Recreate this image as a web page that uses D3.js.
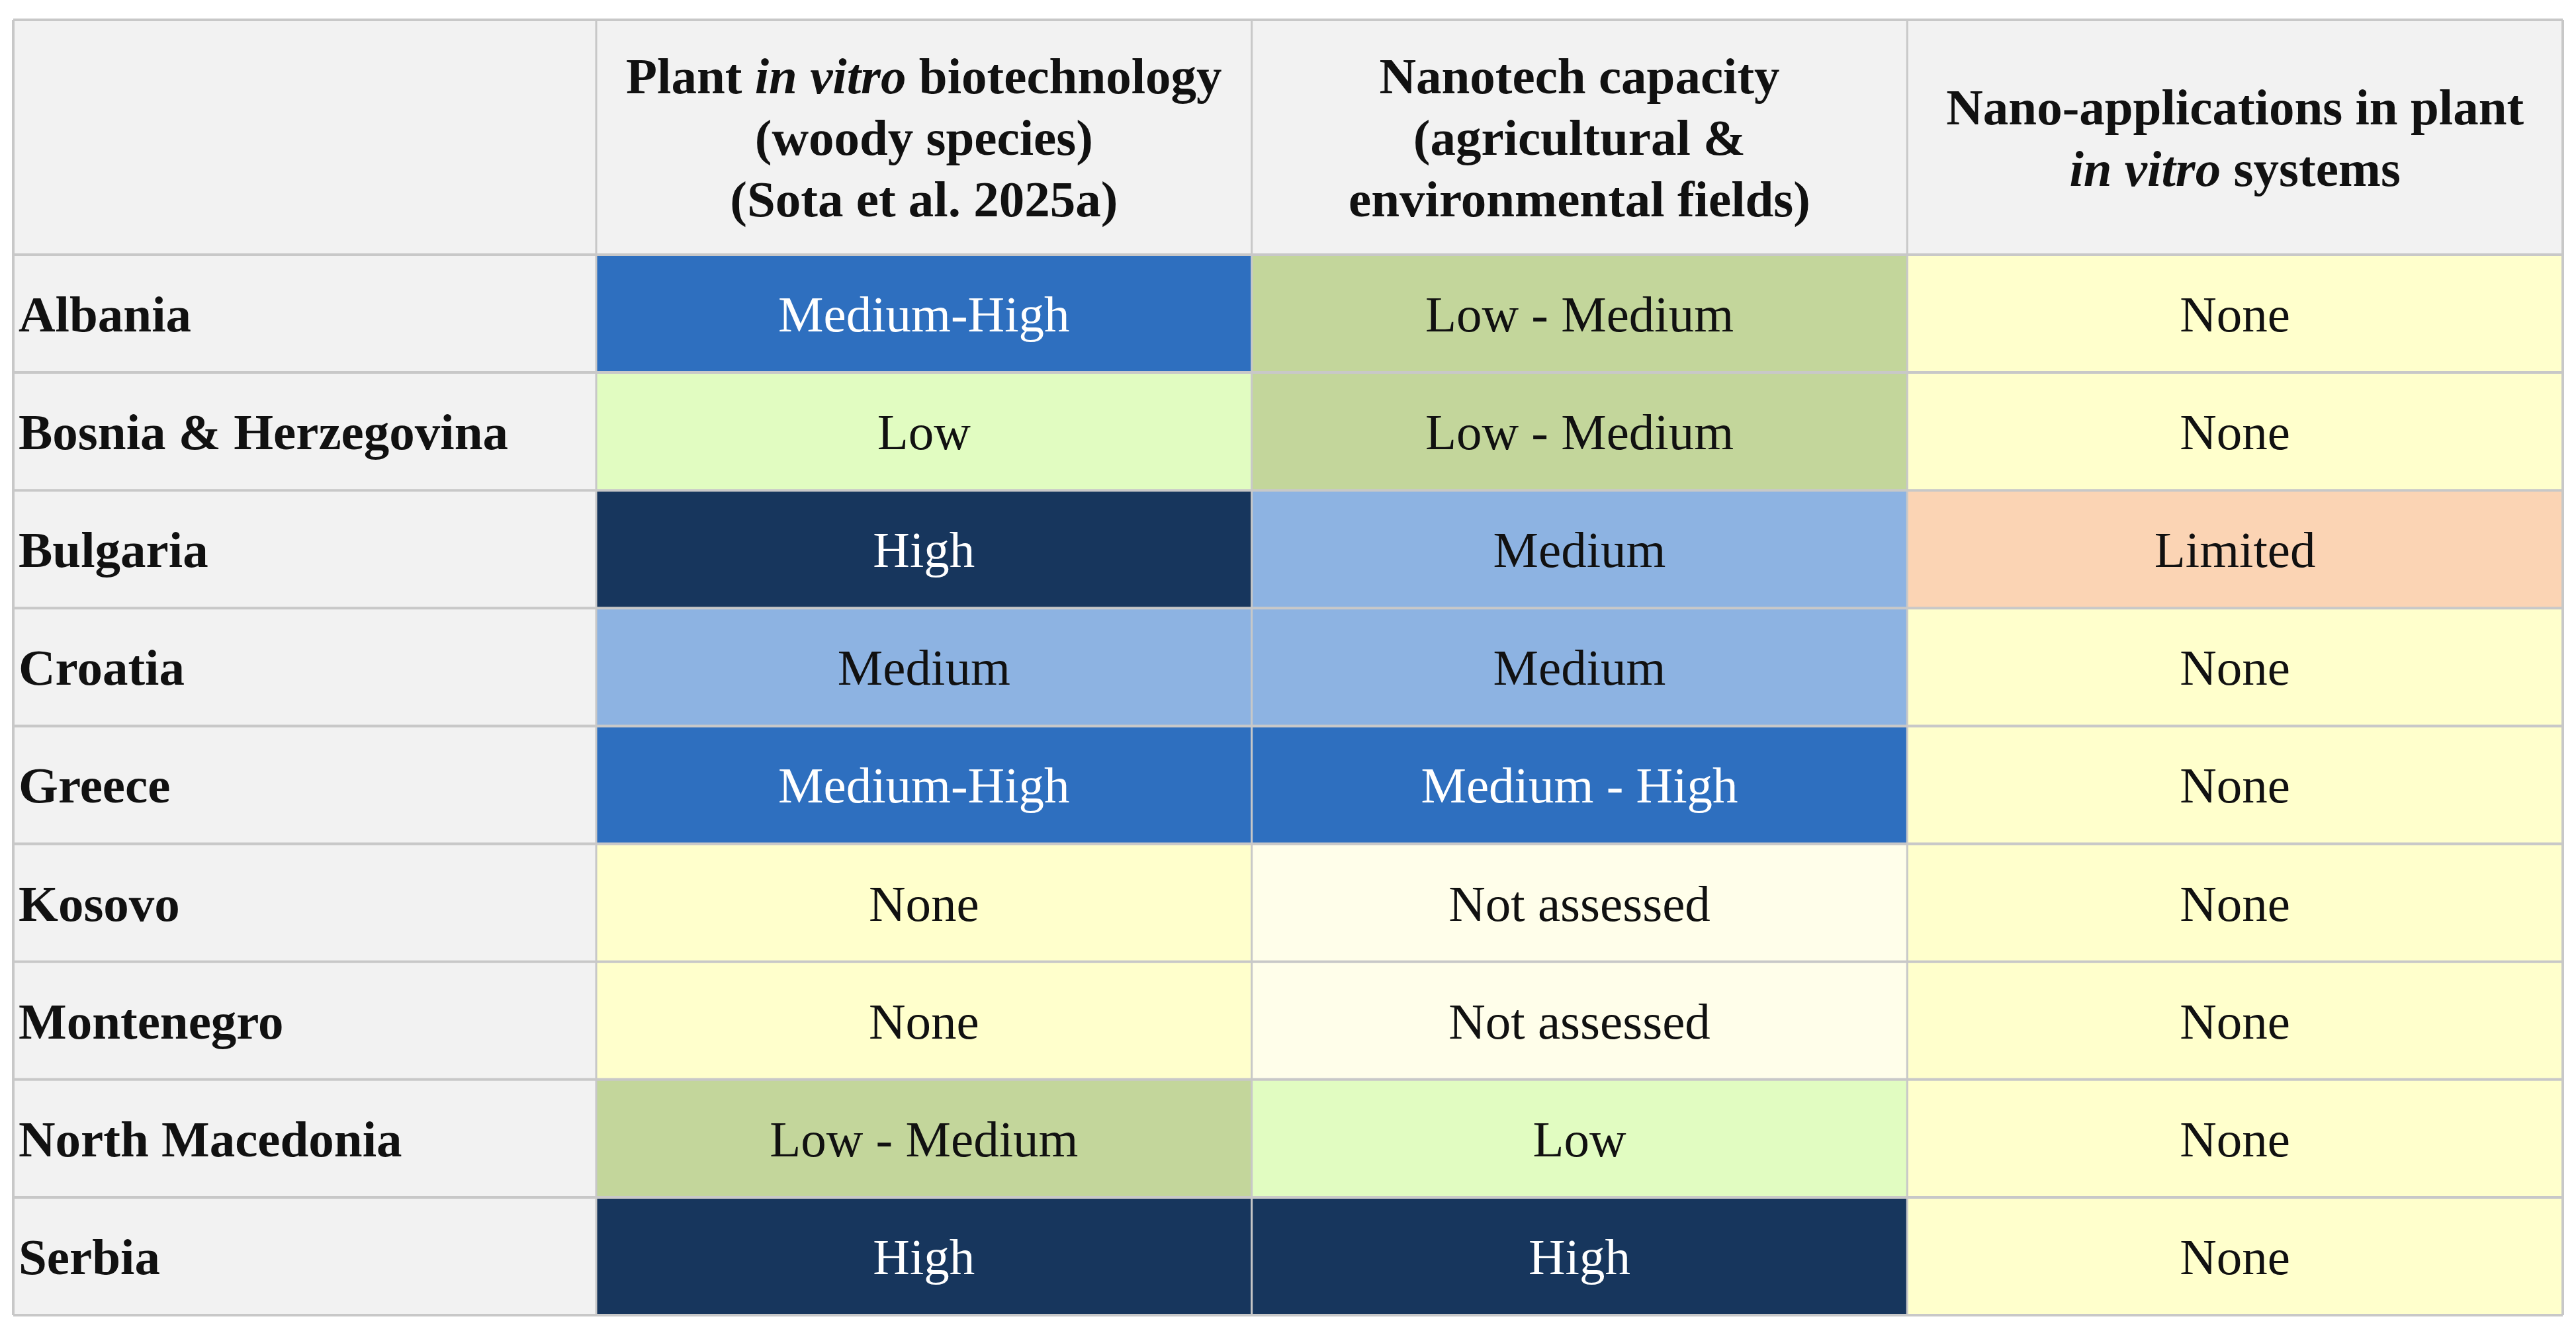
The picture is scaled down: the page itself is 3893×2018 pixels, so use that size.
<!DOCTYPE html>
<html>
<head>
	<meta charset="utf-8">
	<script src="https://d3js.org/d3.v7.min.js"></script>
	<style>
		html, body { margin: 0; padding: 0; background: #fff; }
		text { font-family: "Liberation Serif", "Times New Roman", serif; }
	</style>
</head>
<body>
	<script>

var width = 3893,
	height = 2018;

// table data
var countries = ["Albania", "Bosnia & Herzegovina", "Bulgaria", "Croatia", "Greece",
	"Kosovo", "Montenegro", "North Macedonia", "Serbia"];

var columns = ["invitro", "nanotech", "nanoapps"];

// header lines, each line is a list of [text, italic]
var headerLines = [
	[ [["Plant ", false], ["in vitro", true], [" biotechnology", false]],
	  [["(woody species)", false]],
	  [["(Sota et al. 2025a)", false]] ],
	[ [["Nanotech capacity", false]],
	  [["(agricultural &", false]],
	  [["environmental fields)", false]] ],
	[ [["Nano-applications in plant", false]],
	  [["in vitro", true], [" systems", false]] ]
];

var invitro = ["Medium-High", "Low", "High", "Medium", "Medium-High", "None", "None", "Low - Medium", "High"];
var nanotech = ["Low - Medium", "Low - Medium", "Medium", "Medium", "Medium - High", "Not assessed", "Not assessed", "Low", "High"];
var nanoapps = ["None", "None", "Limited", "None", "None", "None", "None", "None", "None"];

var levels = ["High", "Medium-High", "Medium", "Low-Medium", "Low", "Limited", "None", "Not assessed"];
var levelColors = ["#17365d", "#2e6fbf", "#8db3e2", "#c3d69b", "#e1fcc1", "#fbd4b4", "#ffffcc", "#fffeea"];
var levelText = ["#fff", "#fff", "#111", "#111", "#111", "#111", "#111", "#111"];

var values = { invitro: invitro, nanotech: nanotech, nanoapps: nanoapps };

var key = function(v){ return v.replace(/ - /g, "-"); };

var fill = d3.scaleOrdinal().domain(levels).range(levelColors);
var ink = d3.scaleOrdinal().domain(levels).range(levelText);

// layout (window.top is reserved, so tableTop)
var tableLeft = 20, labelRight = 901, tableRight = 3873,
	tableTop = 30, headerBottom = 385, tableBottom = 1988;

var x = d3.scaleBand()
	.domain(columns)
	.range([labelRight, tableRight]);

var y = d3.scaleBand()
	.domain(countries)
	.range([headerBottom, tableBottom]);

var fontSize = 77,
	lineGap = 93,
	gridColor = "#c8c8c8";

var svg = d3.select("body")
	.append("svg")
	.attr("width", width)
	.attr("height", height);

// header row
var header = svg.append("g").attr("id", "header");

header.append("rect")
	.attr("x", tableLeft)
	.attr("y", tableTop)
	.attr("width", labelRight - tableLeft)
	.attr("height", headerBottom - tableTop)
	.attr("fill", "#f2f2f2");

var heads = header.selectAll("g.head")
	.data(columns)
	.enter()
	.append("g")
	.attr("class", "head");

heads.append("rect")
	.attr("x", function(d){ return x(d); })
	.attr("y", tableTop)
	.attr("width", x.bandwidth())
	.attr("height", headerBottom - tableTop)
	.attr("fill", "#f2f2f2");

heads.each(function(d, i){
	var lines = headerLines[i];
	var cy = (tableTop + headerBottom) / 2;
	var y0 = cy - (lines.length - 1) * lineGap / 2;
	var t = d3.select(this).append("text")
		.attr("text-anchor", "middle")
		.attr("font-size", fontSize)
		.attr("font-weight", "bold")
		.attr("fill", "#111");
	lines.forEach(function(line, j){
		line.forEach(function(seg, k){
			var ts = t.append("tspan")
				.text(seg[0])
				.attr("font-style", seg[1] ? "italic" : "normal");
			if (k === 0) {
				ts.attr("x", x(d) + x.bandwidth() / 2)
					.attr("y", y0 + j * lineGap)
					.attr("dy", "0.35em");
			}
		});
	});
});

// body rows
var rows = svg.append("g")
	.attr("id", "rows")
	.selectAll("g")
	.data(countries)
	.enter()
	.append("g");

rows.append("rect")
	.attr("x", tableLeft)
	.attr("y", function(d){ return y(d); })
	.attr("width", labelRight - tableLeft)
	.attr("height", y.bandwidth())
	.attr("fill", "#f2f2f2");

rows.append("text")
	.attr("x", tableLeft + 8)
	.attr("y", function(d){ return y(d) + y.bandwidth() / 2; })
	.attr("dy", "0.35em")
	.attr("font-size", fontSize)
	.attr("font-weight", "bold")
	.attr("fill", "#111")
	.text(function(d){ return d; });

var cells = rows.selectAll("g.cell")
	.data(function(d, i){
		return columns.map(function(c){ return { row: d, col: c, value: values[c][i] }; });
	})
	.enter()
	.append("g")
	.attr("class", "cell");

cells.append("rect")
	.attr("x", function(d){ return x(d.col); })
	.attr("y", function(d){ return y(d.row); })
	.attr("width", x.bandwidth())
	.attr("height", y.bandwidth())
	.attr("fill", function(d){ return fill(key(d.value)); });

cells.append("text")
	.attr("x", function(d){ return x(d.col) + x.bandwidth() / 2; })
	.attr("y", function(d){ return y(d.row) + y.bandwidth() / 2; })
	.attr("dy", "0.35em")
	.attr("text-anchor", "middle")
	.attr("font-size", fontSize)
	.attr("fill", function(d){ return ink(key(d.value)); })
	.text(function(d){ return d.value; });

// grid lines
var grid = svg.append("g")
	.attr("id", "grid")
	.attr("stroke", gridColor)
	.attr("fill", "none");

var hLines = [tableTop, headerBottom].concat(countries.map(function(c){ return y(c) + y.bandwidth(); }));
grid.selectAll("line.h")
	.data(hLines)
	.enter()
	.append("line")
	.attr("x1", tableLeft)
	.attr("x2", tableRight)
	.attr("y1", function(d){ return d; })
	.attr("y2", function(d){ return d; })
	.attr("stroke-width", 4);

var vLines = [tableLeft, labelRight].concat(columns.map(function(c){ return x(c) + x.bandwidth(); }));
grid.selectAll("line.v")
	.data(vLines)
	.enter()
	.append("line")
	.attr("x1", function(d){ return d; })
	.attr("x2", function(d){ return d; })
	.attr("y1", tableTop)
	.attr("y2", tableBottom)
	.attr("stroke-width", function(d, i){ return (i === 0 || i === vLines.length - 1) ? 4 : 3; });
	</script>
</body>
</html>
